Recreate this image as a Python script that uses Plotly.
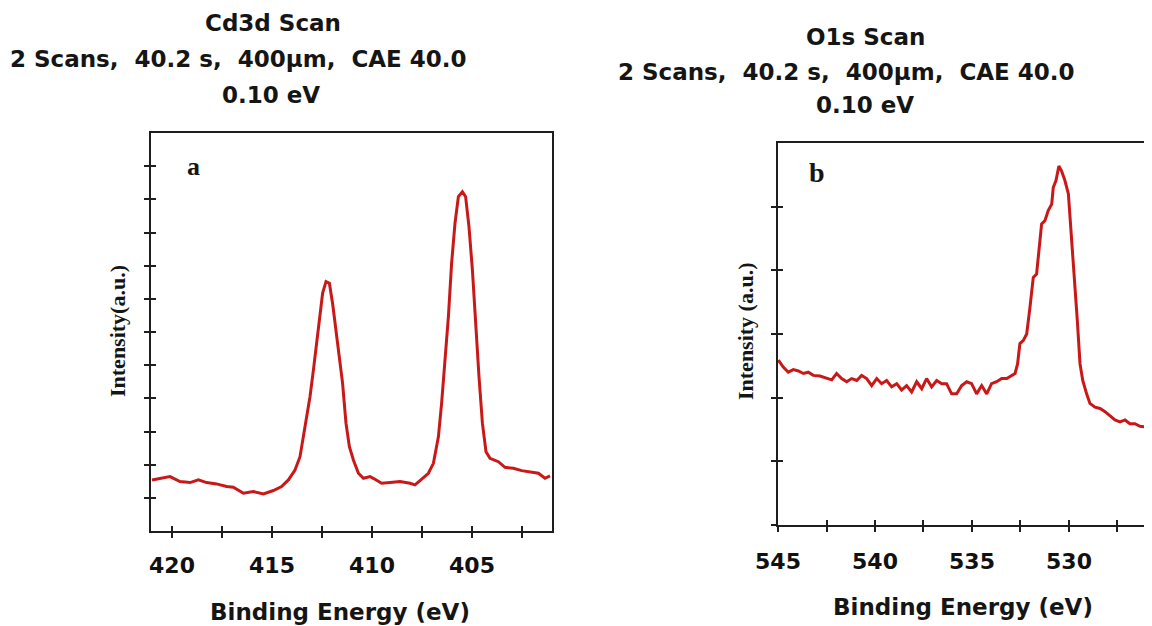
import plotly.graph_objects as go

# ---------------- data ----------------
# Panel a: Cd3d scan
cd_energy = [421.0, 420.6, 420.1, 419.6, 419.1, 418.68, 418.27, 417.77, 417.27, 416.93,
             416.43, 415.93, 415.43, 414.93, 414.52, 414.18, 413.85, 413.6, 413.43, 413.27,
             413.1, 412.93, 412.77, 412.6, 412.47, 412.3, 412.13, 411.97, 411.8, 411.63,
             411.47, 411.3, 411.13, 410.93, 410.68, 410.43, 410.1, 409.85, 409.52, 409.1,
             408.6, 408.1, 407.85, 407.6, 407.18, 406.93, 406.68, 406.52, 406.35, 406.18,
             406.02, 405.85, 405.68, 405.48, 405.32, 405.15, 404.98, 404.82, 404.65, 404.48,
             404.3, 404.1, 403.68, 403.35, 402.93, 402.52, 402.1, 401.68, 401.35, 401.1]
cd_intensity = [1.54, 1.59, 1.64, 1.49, 1.46, 1.54, 1.46, 1.42, 1.34, 1.32,
                1.14, 1.19, 1.12, 1.22, 1.34, 1.54, 1.84, 2.24, 2.84, 3.45,
                4.05, 4.85, 5.66, 6.46, 7.17, 7.52, 7.47, 6.86, 6.06, 5.26,
                4.45, 3.25, 2.54, 2.14, 1.74, 1.59, 1.64, 1.56, 1.44, 1.46,
                1.49, 1.44, 1.39, 1.52, 1.74, 2.04, 2.84, 3.85, 5.05, 6.46,
                8.07, 9.28, 10.08, 10.23, 10.08, 9.17, 7.87, 6.26, 4.65, 3.25,
                2.39, 2.19, 2.09, 1.92, 1.89, 1.82, 1.79, 1.74, 1.59, 1.66]

# Panel b: O1s scan
o_energy = [544.98, 544.73, 544.47, 544.21, 543.95, 543.69, 543.44, 543.18, 542.84, 542.49,
            542.23, 541.98, 541.72, 541.46, 541.2, 540.94, 540.69, 540.43, 540.17, 539.91,
            539.66, 539.4, 539.14, 538.88, 538.63, 538.37, 538.11, 537.85, 537.59, 537.34,
            537.08, 536.82, 536.56, 536.31, 536.05, 535.79, 535.53, 535.27, 535.02, 534.76,
            534.5, 534.24, 533.99, 533.73, 533.47, 533.21, 532.96, 532.78, 532.65, 532.53,
            532.35, 532.18, 532.01, 531.84, 531.67, 531.53, 531.41, 531.24, 531.07, 530.89,
            530.81, 530.67, 530.52, 530.38, 530.21, 530.03, 529.86, 529.74, 529.57, 529.43,
            529.29, 529.09, 528.92, 528.66, 528.4, 528.14, 527.89, 527.63, 527.37, 527.11,
            526.86, 526.6, 526.34, 526.0, 525.72]
o_intensity = [2.59, 2.48, 2.40, 2.44, 2.42, 2.38, 2.40, 2.35, 2.34, 2.30,
               2.28, 2.38, 2.30, 2.25, 2.30, 2.27, 2.35, 2.30, 2.19, 2.30,
               2.22, 2.27, 2.17, 2.22, 2.12, 2.19, 2.09, 2.25, 2.14, 2.30,
               2.17, 2.27, 2.22, 2.22, 2.06, 2.06, 2.19, 2.25, 2.22, 2.06,
               2.19, 2.06, 2.22, 2.25, 2.30, 2.30, 2.35, 2.38, 2.53, 2.85,
               2.90, 3.00, 3.42, 3.89, 3.94, 4.41, 4.73, 4.78, 4.94, 5.04,
               5.30, 5.41, 5.64, 5.56, 5.41, 5.20, 4.52, 3.94, 3.21, 2.53,
               2.27, 2.06, 1.91, 1.85, 1.83, 1.78, 1.72, 1.65, 1.62, 1.65,
               1.59, 1.59, 1.55, 1.54, 1.52]

cd_ticks = [420, 417.5, 415, 412.5, 410, 407.5, 405, 402.5]
cd_ticktext = ["420", "", "415", "", "410", "", "405", ""]
o_ticks = [545, 542.5, 540, 537.5, 535, 532.5, 530, 527.5]
o_ticktext = ["545", "", "540", "", "535", "", "530", ""]
cd_yticks = [1, 2, 3, 4, 5, 6, 7, 8, 9, 10, 11]
o_yticks = [0, 1, 2, 3, 4, 5]

title_a = ["Cd3d Scan", "2 Scans,  40.2 s,  400µm,  CAE 40.0", "0.10 eV"]
title_b = ["O1s Scan", "2 Scans,  40.2 s,  400µm,  CAE 40.0", "0.10 eV"]

# ---------------- styling ----------------
W, H = 1152, 626
OX, OY = 8, 8          # page offset of the figure (default body margin)
RED = "#C81818"
AX = "#1e1e1e"
SANS = "DejaVu Sans"
SERIF = "Liberation Serif"

def px(x):
    return (x - OX) / W

def py(y):
    return 1 - (y - OY) / H

fig = go.Figure()
fig.add_trace(go.Scatter(x=cd_energy, y=cd_intensity, mode="lines",
                         line=dict(color=RED, width=3), xaxis="x", yaxis="y",
                         showlegend=False, hoverinfo="skip"))
fig.add_trace(go.Scatter(x=o_energy, y=o_intensity, mode="lines",
                         line=dict(color=RED, width=3), xaxis="x2", yaxis="y2",
                         showlegend=False, hoverinfo="skip"))
# empty traces so the overlay (inner tick) axes are drawn
fig.add_trace(go.Scatter(x=[None], y=[None], xaxis="x3", yaxis="y3", showlegend=False, hoverinfo="skip"))
fig.add_trace(go.Scatter(x=[None], y=[None], xaxis="x4", yaxis="y4", showlegend=False, hoverinfo="skip"))

tickfont = dict(family=SANS, size=22, color="#111", weight="bold")
common = dict(showgrid=False, zeroline=False, linecolor=AX, linewidth=2,
              tickcolor=AX, tickwidth=1.5, ticklen=5, automargin=False)
inner = dict(showticklabels=False, showline=False, showgrid=False, zeroline=False,
             tickcolor=AX, tickwidth=1.5, ticklen=5, ticks="inside", automargin=False,
             tickmode="array")

xa_dom = [px(151), px(552)]
ya_dom = [py(531), py(133)]
xb_dom = [px(778), min(1.0, px(1152))]
yb_dom = [py(525), py(143)]

cd_xr = [421.05, 401.0]
o_xr = [545.0, 525.72]

fig.update_layout(
    template="none",
    width=W, height=H, margin=dict(l=0, r=0, t=0, b=0, pad=0), autosize=False,
    paper_bgcolor="white", plot_bgcolor="white",
    xaxis=dict(domain=xa_dom, range=cd_xr, anchor="y", tickmode="array",
               tickvals=cd_ticks, ticktext=cd_ticktext, ticks="outside",
               showline=True, mirror=True, tickfont=tickfont, ticklabelstandoff=9, **common),
    yaxis=dict(domain=ya_dom, range=[0, 12], anchor="x", tickmode="array",
               tickvals=cd_yticks, ticks="outside", showticklabels=False,
               showline=True, mirror=True, **common),
    xaxis2=dict(domain=xb_dom, range=o_xr, anchor="y2", tickmode="array",
                tickvals=o_ticks, ticktext=o_ticktext, ticks="outside",
                showline=True, mirror=True, tickfont=tickfont, ticklabelstandoff=11, **common),
    yaxis2=dict(domain=yb_dom, range=[0, 6], anchor="x2", tickmode="array",
                tickvals=o_yticks, ticks="outside", showticklabels=False,
                showline=True, mirror=False, **common),
    xaxis3=dict(overlaying="x", range=cd_xr, anchor="y3", tickvals=cd_ticks, **inner),
    yaxis3=dict(overlaying="y", range=[0, 12], anchor="x3", tickvals=cd_yticks, **inner),
    xaxis4=dict(overlaying="x2", range=o_xr, anchor="y4", tickvals=o_ticks, **inner),
    yaxis4=dict(overlaying="y2", range=[0, 6], anchor="x4", tickvals=o_yticks, **inner),
)

ann = []
def add_text(text, x, y, size, family=SANS, angle=0):
    ann.append(dict(text="<b>" + text + "</b>", x=px(x), y=py(y), xref="paper", yref="paper",
                    xanchor="center", yanchor="middle", showarrow=False, textangle=angle,
                    font=dict(family=family, size=size, color="#151515")))

# titles
for t, (x, y) in zip(title_a, [(273, 23), (238, 59), (271, 95)]):
    add_text(t, x, y, 23)
for t, (x, y) in zip(title_b, [(865, 37), (846, 72), (865, 105)]):
    add_text(t, x, y, 23)

# axis titles
add_text("Binding Energy (eV)", 340, 612, 23)
add_text("Binding Energy (eV)", 963, 607, 23)
add_text("Intensity(a.u.)", 117, 331, 22, family=SERIF, angle=-90)
add_text("Intensity (a.u.)", 745, 331, 22, family=SERIF, angle=-90)

# panel letters
add_text("a", 193, 166, 26, family=SERIF)
add_text("b", 817, 172, 28, family=SERIF)

fig.update_layout(annotations=ann)
fig.write_html("out.html")
